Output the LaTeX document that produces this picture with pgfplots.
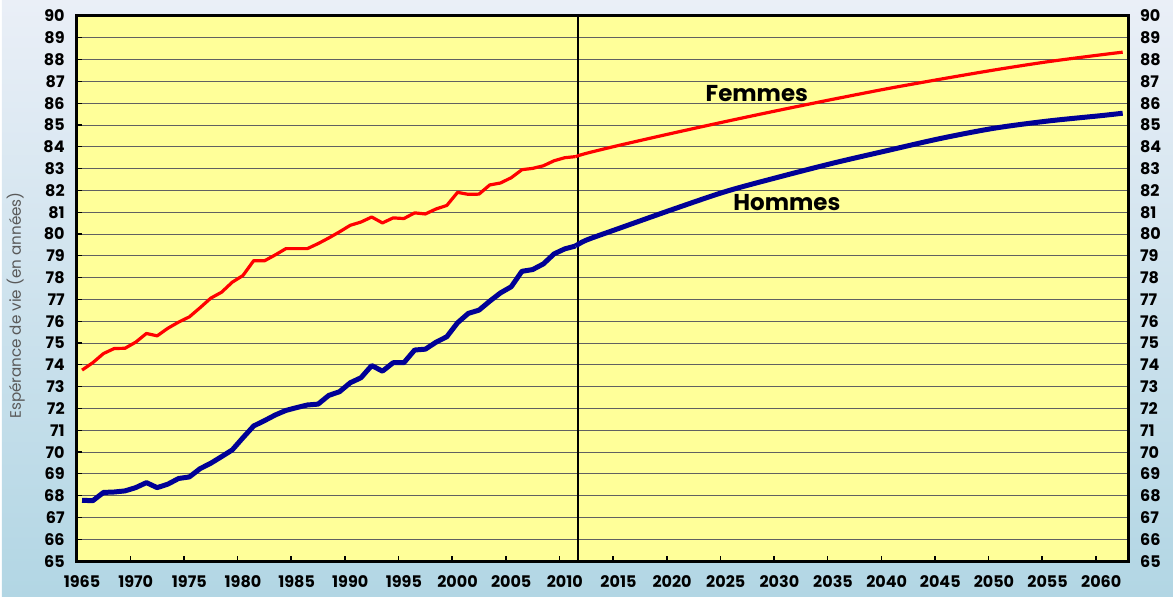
\documentclass[border=0pt]{standalone}
\usepackage{fontspec}
\setmainfont{Poppins}
\usepackage{pgfplots}
\usepackage{pgfplotstable}
\pgfplotsset{compat=1.18}
\definecolor{bgyellow}{RGB}{255,255,153}
\definecolor{navyline}{RGB}{0,0,150}
\definecolor{bgtop}{RGB}{234,239,247}
\definecolor{bgbot}{RGB}{178,214,228}

\pgfplotstableread{
year f h
1965 73.76 67.79
1966 74.10 67.77
1967 74.52 68.15
1968 74.75 68.17
1969 74.76 68.22
1970 75.04 68.37
1971 75.44 68.60
1972 75.33 68.37
1973 75.68 68.53
1974 75.96 68.79
1975 76.20 68.86
1976 76.62 69.24
1977 77.06 69.49
1978 77.33 69.79
1979 77.79 70.10
1980 78.10 70.66
1981 78.78 71.20
1982 78.77 71.44
1983 79.04 71.70
1984 79.33 71.91
1985 79.33 72.04
1986 79.33 72.16
1987 79.56 72.20
1988 79.82 72.60
1989 80.10 72.77
1990 80.40 73.18
1991 80.55 73.41
1992 80.78 73.97
1993 80.51 73.71
1994 80.74 74.10
1995 80.71 74.10
1996 80.97 74.68
1997 80.92 74.72
1998 81.15 75.04
1999 81.31 75.29
2000 81.91 75.93
2001 81.82 76.36
2002 81.83 76.51
2003 82.25 76.92
2004 82.34 77.30
2005 82.58 77.58
2006 82.95 78.29
2007 83.01 78.37
2008 83.13 78.63
2009 83.36 79.09
2010 83.50 79.32
2011 83.55 79.45
}\histdata

\pgfplotstableread{
year f h
2011 83.55 79.45
2012 83.70 79.72
2015 84.06 80.25
2020 84.62 81.12
2025 85.16 81.95
2030 85.68 82.62
2035 86.18 83.25
2040 86.66 83.82
2045 87.10 84.38
2050 87.52 84.85
2055 87.90 85.18
2060 88.22 85.43
2062 88.34 85.54
}\projdata

\begin{document}
\begin{tikzpicture}
\fill[top color=bgtop, bottom color=bgbot] (-37.5pt,-17.5pt) rectangle (549pt,281pt);
\begin{axis}[
  scale only axis,
  width=526.5pt, height=273pt,
  xmin=1964.5, xmax=2062.5,
  ymin=65, ymax=90,
  axis background/.style={fill=bgyellow},
  axis line style={line width=1.5pt, black},
  xtick={1965,1970,...,2060},
  minor xtick={1969.5,1974.5,...,2059.5},
  xtick pos=bottom,
  major x tick style={draw=none},
  minor x tick style={black, line width=0.8pt},
  minor tick length=2.5pt,
  ytick={65,66,...,90},
  ytick pos=left,
  major y tick style={black, line width=0.6pt},
  major tick length=2.5pt,
  tick align=inside,
  ymajorgrids,
  grid style={black!62, solid, line width=0.45pt},
  /pgf/number format/assume math mode=true,
  /pgf/number format/1000 sep={},
  ticklabel style={font=\fontsize{8}{9}\selectfont\bfseries},
  xticklabel style={yshift=-3.5pt},
  yticklabel style={xshift=-2.5pt},
  ylabel={Espérance de vie (en années)},
  ylabel style={at={(axis description cs:-0.058,0.469)}, anchor=center, font=\fontsize{7.6}{9}\selectfont, text=black!65},
  clip=true,
]
\addplot[black, line width=1pt] coordinates {(2011.2,65) (2011.2,90)};
\addplot[red, line width=1.6pt, line join=round] table[x=year, y=f] {\histdata};
\addplot[red, line width=1.6pt, smooth, tension=0.5, line join=round] table[x=year, y=f] {\projdata};
\addplot[navyline, line width=2.5pt, line join=round] table[x=year, y=h] {\histdata};
\addplot[navyline, line width=2.5pt, smooth, tension=0.5, line join=round] table[x=year, y=h] {\projdata};
\node[font=\fontsize{11.5}{13}\selectfont\bfseries] at (axis cs:2027.9,86.43) {Femmes};
\node[font=\fontsize{11.5}{13}\selectfont\bfseries] at (axis cs:2030.7,81.44) {Hommes};
\end{axis}
\begin{axis}[
  scale only axis,
  width=526.5pt, height=273pt,
  xmin=1964.5, xmax=2062.5,
  ymin=65, ymax=90,
  axis line style={draw=none},
  xtick=\empty,
  ytick={65,66,...,90},
  ytick pos=right,
  yticklabel pos=right,
  major tick length=0pt,
  /pgf/number format/assume math mode=true,
  ticklabel style={font=\fontsize{8}{9}\selectfont\bfseries},
  yticklabel style={xshift=2.5pt},
]
\addplot[draw=none] coordinates {(2000,70)};
\end{axis}
\end{tikzpicture}
\end{document}
